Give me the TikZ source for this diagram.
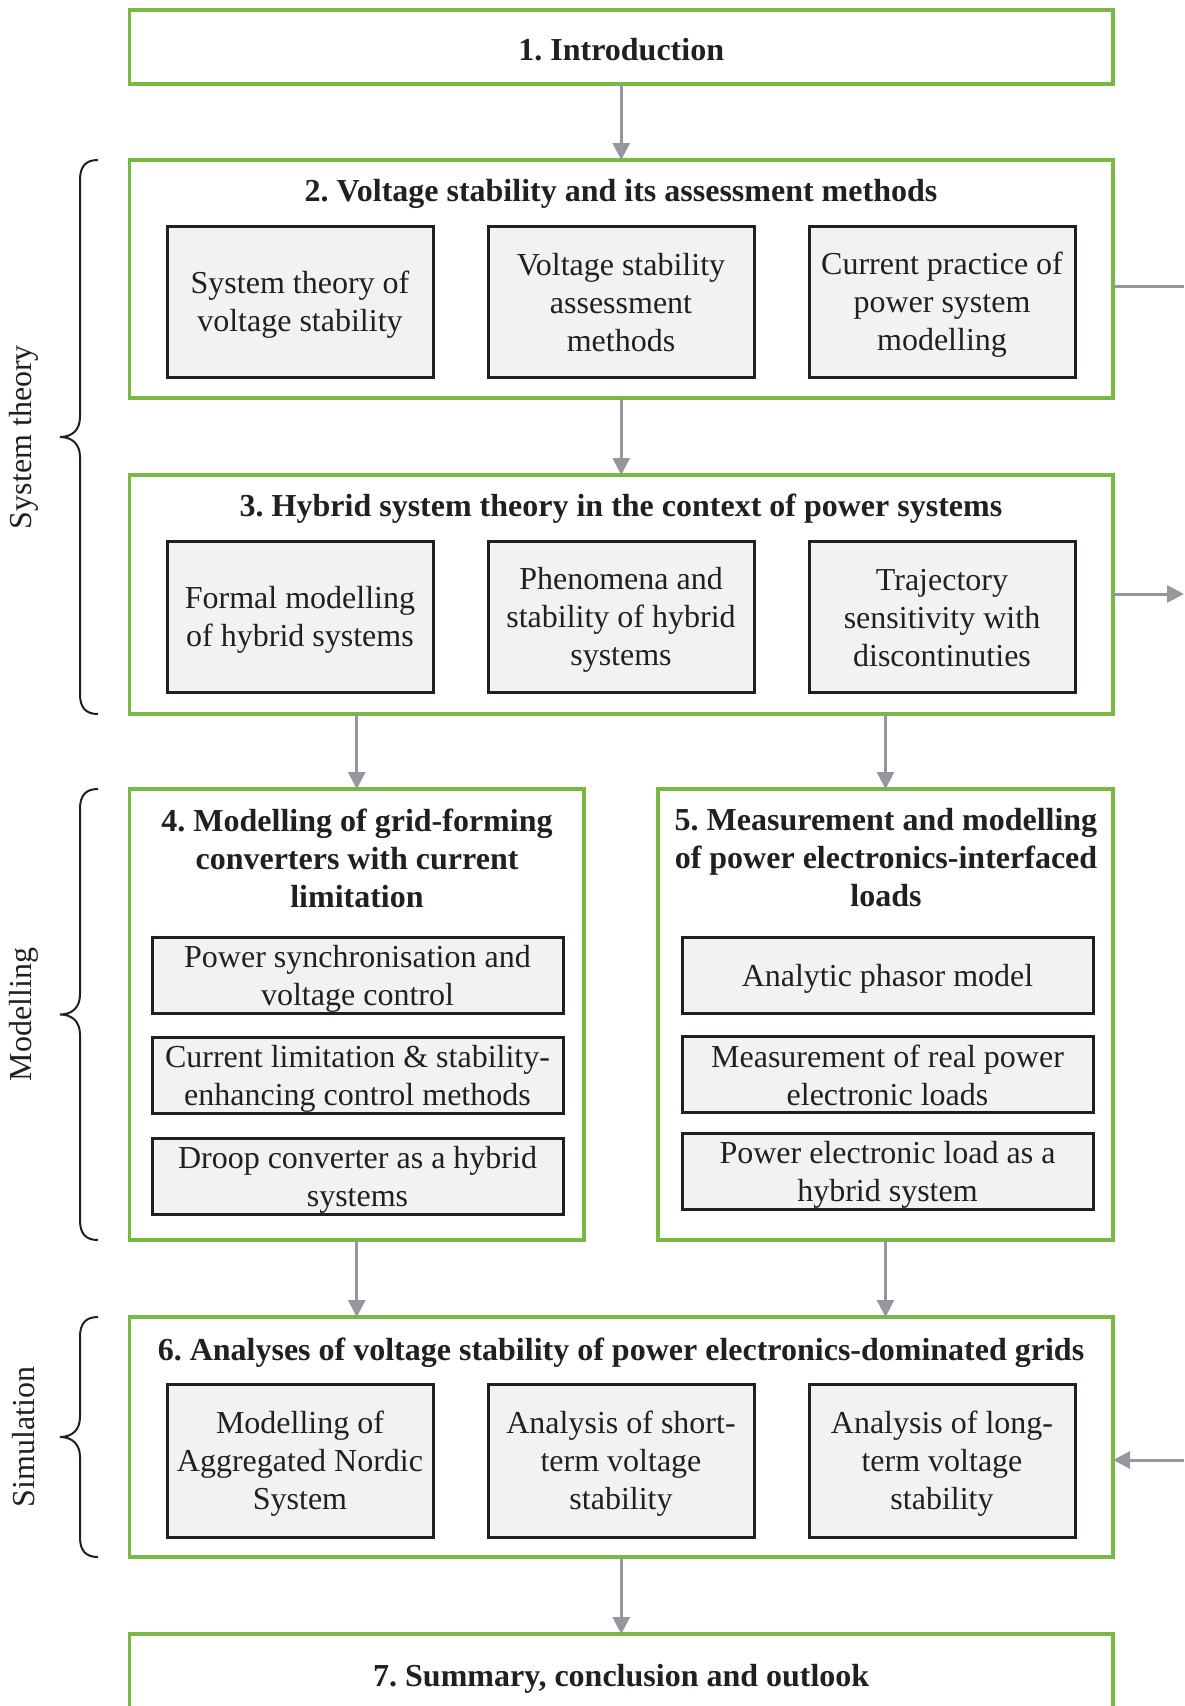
\documentclass[tikz,border=0pt]{standalone}
\usepackage{fontspec}
\setmainfont{Liberation Serif}
\usetikzlibrary{arrows.meta}
\definecolor{framegreen}{RGB}{122,184,68}
\definecolor{subfill}{RGB}{241,242,244}
\definecolor{arrowgray}{RGB}{150,151,156}
\definecolor{inkdark}{RGB}{35,31,32}
\frenchspacing

\begin{document}
\begin{tikzpicture}[x=1pt,y=-1pt,
  every node/.style={inner sep=0pt, outer sep=0pt, text=inkdark},
  chapter/.style={draw=framegreen, line width=3.5pt, minimum width=983.5pt},
  heading/.style={font=\bfseries\fontsize{32}{38}\selectfont, align=center},
  topic/.style={draw=inkdark, line width=3pt, fill=subfill},
  topictext/.style={align=center, font=\fontsize{32}{38}\selectfont},
  wide/.style={minimum width=266pt, minimum height=151pt},
  flat/.style={minimum width=411pt, minimum height=76pt},
  flow/.style={draw=arrowgray, line width=3pt, -{Triangle[width=17pt,length=17pt]}},
  feed/.style={draw=arrowgray, line width=3pt},
  bracket/.style={draw=inkdark, line width=2pt},
  part/.style={rotate=90, font=\fontsize{32}{38}\selectfont}]

\clip (0,0) rectangle (1184,1706);

% ---------- chapter frames ----------
\node[chapter, minimum height=74pt] (b1) at (621.25,47) {};
\node[heading] (t1) at ([yshift=-3pt]b1.center) {1. Introduction};

\node[chapter, minimum height=238pt] (b2) at (621.25,279) {};
\node[heading] (t2) at (621,194) {2. Voltage stability and its assessment methods};

\node[chapter, minimum height=239pt] (b3) at (621.25,594.5) {};
\node[heading] (t3) at (621,509) {3. Hybrid system theory in the context of power systems};

\node[chapter, minimum width=454.5pt, minimum height=451pt] (b4) at (356.75,1014.5) {};
\node[heading] (t4) at (357,858) {4. Modelling of grid-forming\\converters with current\\limitation};

\node[chapter, minimum width=455pt, minimum height=451pt] (b5) at (885.5,1014.5) {};
\node[heading] (t5) at (886,858) {5. Measurement and modelling\\of power electronics-interfaced\\loads};

\node[chapter, minimum height=240pt] (b6) at (621.25,1437) {};
\node[heading] (t6) at (621,1353) {6. Analyses of voltage stability of power electronics-dominated grids};

\node[chapter, minimum height=83pt] (b7) at (621.25,1675.5) {};
\node[heading] (t7) at ([yshift=-3.5pt]b7.center) {7. Summary, conclusion and outlook};

% ---------- topic boxes, each with its text set a little below centre ----------
% chapter 2
\node[topic, wide] (s21) at (300,301.5) {};
\node[topictext] (s21t) at ([yshift=-3pt]s21.center) {System theory of\\voltage stability};
\node[topic, wide] (s22) at (621,301.5) {};
\node[topictext] (s22t) at ([yshift=-1pt]s22.center) {Voltage stability\\assessment\\methods};
\node[topic, wide] (s23) at (942,301.5) {};
\node[topictext] (s23t) at ([yshift=-3pt]s23.center) {Current practice of\\power system\\modelling};

% chapter 3
\node[topic, wide] (s31) at (300,617) {};
\node[topictext] (s31t) at ([yshift=-3pt]s31.center) {Formal modelling\\of hybrid systems};
\node[topic, wide] (s32) at (621,617) {};
\node[topictext] (s32t) at ([yshift=-3pt]s32.center) {Phenomena and\\stability of hybrid\\systems};
\node[topic, wide] (s33) at (942,617) {};
\node[topictext] (s33t) at ([yshift=-1pt]s33.center) {Trajectory\\sensitivity with\\discontinuties};

% chapter 4
\node[topic, flat] (s41) at (357.5,975) {};
\node[topictext] (s41t) at ([yshift=-3.5pt]s41.center) {Power synchronisation and\\voltage control};
\node[topic, flat] (s42) at (357.5,1075) {};
\node[topictext] (s42t) at ([yshift=-3.5pt]s42.center) {Current limitation \& stability-\\enhancing control methods};
\node[topic, flat] (s43) at (357.5,1176) {};
\node[topictext] (s43t) at ([yshift=-3.5pt]s43.center) {Droop converter as a hybrid\\systems};

% chapter 5
\node[topic, flat] (s51) at (887.5,975) {};
\node[topictext] (s51t) at ([yshift=-4pt]s51.center) {Analytic phasor model};
\node[topic, flat] (s52) at (887.5,1074) {};
\node[topictext] (s52t) at ([yshift=-1pt]s52.center) {Measurement of real power\\electronic loads};
\node[topic, flat] (s53) at (887.5,1171.5) {};
\node[topictext] (s53t) at ([yshift=-3.5pt]s53.center) {Power electronic load as a\\hybrid system};

% chapter 6
\node[topic, wide, minimum height=153pt] (s61) at (300,1460.5) {};
\node[topictext] (s61t) at ([yshift=-3pt]s61.center) {Modelling of\\Aggregated Nordic\\System};
\node[topic, wide, minimum height=153pt] (s62) at (621,1460.5) {};
\node[topictext] (s62t) at ([yshift=-3pt]s62.center) {Analysis of short-\\term voltage\\stability};
\node[topic, wide, minimum height=153pt] (s63) at (942,1460.5) {};
\node[topictext] (s63t) at ([yshift=-3pt]s63.center) {Analysis of long-\\term voltage\\stability};

% ---------- reading order ----------
\draw[flow] (b1.south) -- (b2.north);
\draw[flow] (b2.south) -- (b3.north);
\draw[flow] (b3.south -| b4.north) -- (b4.north);
\draw[flow] (b3.south -| b5.north) -- (b5.north);
\draw[flow] (b4.south) -- (b4.south |- b6.north);
\draw[flow] (b5.south) -- (b5.south |- b6.north);
\draw[flow] (b6.south) -- (b7.north);

% links leaving and entering on the right
\coordinate (r2) at (1184,286);
\coordinate (r3) at (1184,594);
\coordinate (r6) at (1184,1460);
\draw[feed] (b2.east |- r2) -- (r2);
\draw[flow] (b3.east |- r3) -- (r3);
\draw[flow] (r6) -- (b6.east |- r6);

% ---------- part braces ----------
\draw[bracket] (98,160) .. controls (86,160) and (80,166) .. (80,180) -- (80,417)
  .. controls (80,430) and (72,437) .. (60,437)
  .. controls (72,437) and (80,444) .. (80,457) -- (80,694)
  .. controls (80,708) and (86,714) .. (98,714);
\draw[bracket] (98,789) .. controls (86,789) and (80,795) .. (80,809) -- (80,994.5)
  .. controls (80,1007.5) and (72,1014.5) .. (60,1014.5)
  .. controls (72,1014.5) and (80,1021.5) .. (80,1034.5) -- (80,1220)
  .. controls (80,1234) and (86,1240) .. (98,1240);
\draw[bracket] (98,1317) .. controls (86,1317) and (80,1323) .. (80,1337) -- (80,1417)
  .. controls (80,1430) and (72,1437) .. (60,1437)
  .. controls (72,1437) and (80,1444) .. (80,1457) -- (80,1537)
  .. controls (80,1551) and (86,1557) .. (98,1557);

\node[part] (p1) at (24,437) {System theory};
\node[part] (p2) at (24,1014.5) {Modelling};
\node[part] (p3) at (24,1437) {Simulation};

\end{tikzpicture}
\end{document}
